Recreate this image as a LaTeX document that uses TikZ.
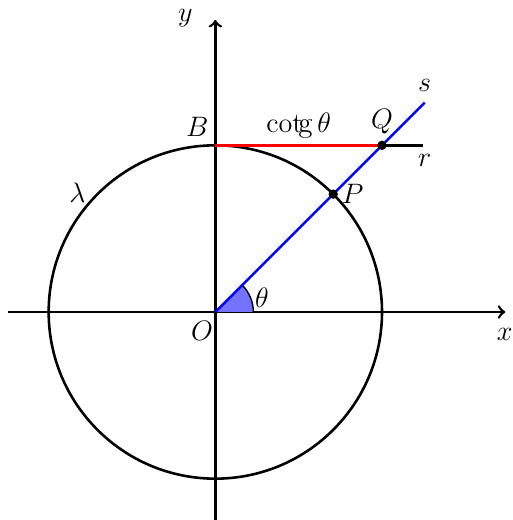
\documentclass[tikz,border=0pt]{standalone}
\usetikzlibrary{positioning}

\begin{document}
\begin{tikzpicture}[line width=1.1pt, every node/.style={font=\fontsize{12.4}{15}\selectfont},
 pt/.style={circle,fill,inner sep=0pt,minimum size=4pt},
 lab/.style={inner sep=2pt,text=black}]
\useasboundingbox (-3.23,-3.12) rectangle (4.46,4.68);
% axes
\coordinate (xl) at (-3.11,0); \coordinate (xr) at (4.35,0);
\coordinate (yb) at (0,-3.2); \coordinate (yt) at (0,4.38);
\draw[->] (xl)--(xr);
\draw[->] (yb)--(yt);
\node[lab] (xlab) at (4.34,-0.33) {$x$};
\node[lab] (ylab) at (-0.45,4.4) {$y$};
\coordinate (O) at (0,0);
\node[lab] (Olab) at (-0.2,-0.29) {$O$};
% angle
\fill[blue!55] (O) -- (0.57,0) arc (0:45:0.57) -- cycle;
\draw[semithick] (0.57,0) arc (0:45:0.57);
\node[lab] (th) at (0.7,0.22) {$\theta$};
% circle
\draw (O) circle (2.5);
\node[lab] (lam) at (-2.07,1.79) {$\lambda$};
% points
\coordinate (B) at (0,2.5);
\coordinate (Q) at (2.5,2.5);
\coordinate (P) at (45:2.5);
\coordinate (r) at (3.11,2.5);
\coordinate (s) at (3.14,3.14);
\draw (Q)--(r);
\draw[red] (B)--(Q);
\draw[blue] (O)--(s);
\node[pt] (Pd) at (P) {}; \node[pt] (Qd) at (Q) {};
\node[lab] (rlab) at (3.14,2.27) {$r$};
\node[lab] (slab) at (3.14,3.4) {$s$};
\node[lab] (cot) at (1.25,2.8) {$\cot\!$g$\,\theta$};
\node[lab] (Blab) at (-0.27,2.77) {$B$};
\node[lab] (Qlab) at (2.5,2.86) {$Q$};
\node[lab] (Plab) at (2.06,1.77) {$P$};
\end{tikzpicture}
\end{document}
